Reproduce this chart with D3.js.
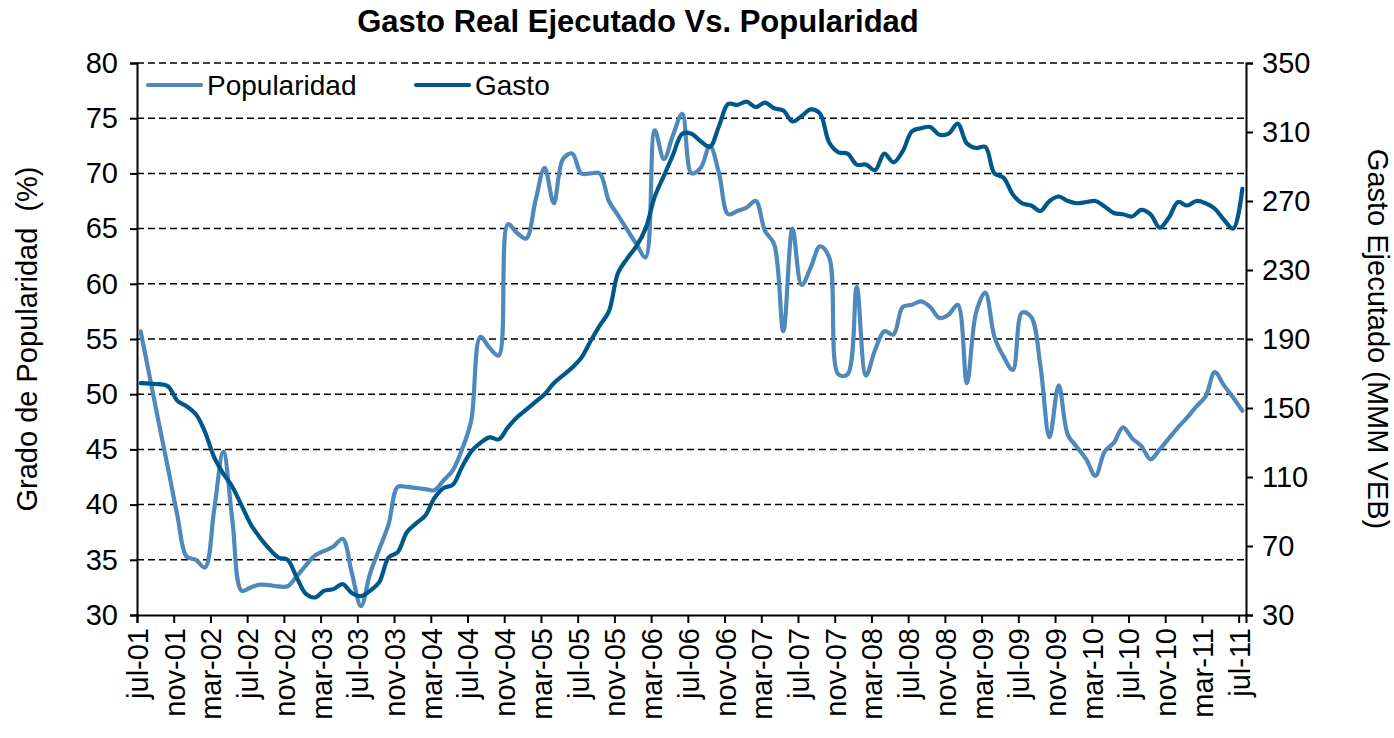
<!DOCTYPE html>
<html>
<head>
<meta charset="utf-8">
<script src="https://cdn.jsdelivr.net/npm/d3@7"></script>
<style>
  body { margin: 0; background: #fff; }
  svg text { font-family: "Liberation Sans", Arial, sans-serif; fill: #000; }
</style>
</head>
<body>
<svg id="chart" width="1394" height="738"></svg>
<script>
// tick labels every 4 months, jul-01 .. jul-11
const tickLabels = ["jul-01","nov-01","mar-02","jul-02","nov-02","mar-03","jul-03","nov-03",
  "mar-04","jul-04","nov-04","mar-05","jul-05","nov-05","mar-06","jul-06","nov-06",
  "mar-07","jul-07","nov-07","mar-08","jul-08","nov-08","mar-09","jul-09","nov-09",
  "mar-10","jul-10","nov-10","mar-11","jul-11"];

// monthly values, jul-01 .. jul-11 (121 months)
const popularidad = [
  55.7, 51.5, 47.3, 43.2, 39.0, 35.3, 35.0, 34.3, 39.5, 44.8,
  38.5, 32.2, 32.5, 32.75, 32.7, 32.6, 32.6, 33.5, 34.5, 35.4,
  35.8, 36.2, 36.9, 33.8, 30.8, 33.8, 36.0, 38.2, 41.6, 41.6,
  41.5, 41.4, 41.3, 42.2, 43.1, 45.0, 47.6, 55.2, 54.2, 53.5,
  65.4, 64.6, 64.1, 67.5, 70.5, 67.3, 71.3, 71.8, 70.0, 70.0,
  70.0, 67.5, 66.2, 64.9, 63.6, 62.4, 73.9, 71.3, 73.5, 75.4,
  70.0, 70.5, 72.5, 70.0, 66.3, 66.6, 66.9, 67.5, 64.8, 63.6,
  55.7, 65.0, 59.9, 61.5, 63.4, 62.4, 51.8, 51.8, 59.7, 51.7,
  54.0, 55.7, 55.4, 57.9, 58.1, 58.4, 57.9, 56.9, 57.2, 58.1,
  51.0, 57.4, 59.2, 55.2, 53.4, 52.2, 57.4, 57.0, 52.6, 46.1,
  50.8, 46.3, 45.2, 44.1, 42.6, 44.8, 45.6, 47.0, 46.0, 45.3,
  44.1, 45.0, 46.0, 47.0, 47.9, 48.9, 49.8, 52.0, 50.8, 49.7,
  48.5
];

const gasto = [
  164.4, 164.1, 163.8, 162.5, 154.2, 151.0, 146.5, 136.2, 121.5, 111.9,
  104.2, 93.4, 82.5, 74.8, 68.4, 63.3, 62.0, 51.8, 42.2, 40.2,
  44.1, 45.0, 47.9, 42.8, 40.9, 44.1, 49.2, 63.3, 66.5, 78.0,
  83.1, 87.6, 97.8, 103.6, 105.5, 115.8, 124.7, 129.8, 133.0, 131.8,
  138.8, 144.6, 149.0, 153.5, 158.0, 164.4, 168.9, 173.4, 179.1, 188.7,
  197.7, 206.0, 228.4, 236.7, 243.8, 254.0, 272.6, 284.7, 296.9, 309.0,
  309.0, 304.6, 301.4, 313.5, 326.3, 325.7, 327.6, 324.4, 327.0, 323.8,
  322.5, 316.1, 319.3, 323.1, 320.6, 303.9, 298.2, 297.5, 291.1, 291.1,
  287.9, 297.5, 292.4, 298.8, 310.3, 312.2, 312.9, 308.4, 309.0, 314.8,
  303.3, 300.7, 301.4, 286.0, 283.4, 273.8, 268.7, 267.4, 264.2, 270.0,
  272.6, 270.0, 268.7, 269.4, 270.0, 266.8, 263.0, 262.3, 261.0, 264.9,
  262.3, 254.6, 260.4, 269.4, 267.4, 270.0, 268.7, 265.5, 259.1, 254.0,
  277.0
];

const leftTicks = [30, 35, 40, 45, 50, 55, 60, 65, 70, 75, 80];
const rightTicks = [30, 70, 110, 150, 190, 230, 270, 310, 350];

const colPop = "#4f88bb";
const colGasto = "#00578a";

const svg = d3.select("#chart");
const plotL = 137, plotR = 1246, plotT = 63, plotB = 615;

const x = d3.scaleLinear().domain([0, 120.8]).range([plotL, plotR]);
const yL = d3.scaleLinear().domain([30, 80]).range([plotB, plotT]);
const yR = d3.scaleLinear().domain([30, 350]).range([plotB, plotT]);

// title
svg.append("text")
  .attr("x", 638).attr("y", 32)
  .attr("text-anchor", "middle")
  .style("font-size", "31px").style("font-weight", "bold")
  .text("Gasto Real Ejecutado Vs. Popularidad");

// gridlines
svg.append("g").selectAll("line")
  .data(leftTicks.filter(d => d > 30))
  .join("line")
  .attr("x1", plotL).attr("x2", plotR)
  .attr("y1", d => yL(d)).attr("y2", d => yL(d))
  .attr("stroke", "#000").attr("stroke-width", 1.5)
  .attr("stroke-dasharray", "7,4");

// left axis
const axL = svg.append("g").attr("transform", `translate(${plotL},0)`)
  .call(d3.axisLeft(yL).tickValues(leftTicks).tickSize(7).tickPadding(12));
// right axis
const axR = svg.append("g").attr("transform", `translate(${plotR},0)`)
  .call(d3.axisRight(yR).tickValues(rightTicks).tickSize(7).tickPadding(9));
// bottom axis
const axB = svg.append("g").attr("transform", `translate(0,${plotB})`)
  .call(d3.axisBottom(x).tickValues(d3.range(0, 121, 4)).tickSize(8)
    .tickFormat((d, i) => tickLabels[i]));

[axL, axR, axB].forEach(g => {
  g.select(".domain").attr("stroke", "#000").attr("stroke-width", 2);
  g.selectAll(".tick line").attr("stroke", "#000").attr("stroke-width", 2);
  g.selectAll("text").style("font-size", "29px").style("font-family", "'Liberation Sans', Arial, sans-serif").attr("fill", "#000");
});
axB.selectAll("text")
  .attr("transform", "rotate(-90)")
  .attr("text-anchor", "end")
  .attr("x", -13).attr("y", 0).attr("dy", "0.36em");

// axis titles
svg.append("text")
  .attr("transform", `translate(37,${(plotT + plotB) / 2}) rotate(-90)`)
  .attr("text-anchor", "middle")
  .style("font-size", "29px").style("white-space", "pre")
  .text("Grado de Popularidad  (%)");
svg.append("text")
  .attr("transform", `translate(1368,${(plotT + plotB) / 2}) rotate(90)`)
  .attr("text-anchor", "middle")
  .style("font-size", "29px")
  .text("Gasto Ejecutado (MMM VEB)");

// lines
const linePop = d3.line()
  .x((d, i) => x(i + 0.4)).y(d => yL(d))
  .curve(d3.curveCatmullRom);
const lineGasto = d3.line()
  .x((d, i) => x(i + 0.4)).y(d => yR(d))
  .curve(d3.curveCatmullRom);

svg.append("path").datum(popularidad)
  .attr("d", linePop)
  .attr("fill", "none").attr("stroke", colPop)
  .attr("stroke-width", 4.2).attr("stroke-linejoin", "round").attr("stroke-linecap", "round");
svg.append("path").datum(gasto)
  .attr("d", lineGasto)
  .attr("fill", "none").attr("stroke", colGasto)
  .attr("stroke-width", 4.2).attr("stroke-linejoin", "round").attr("stroke-linecap", "round");

// legend
const legend = [
  { name: "Popularidad", color: colPop, x: 148 },
  { name: "Gasto", color: colGasto, x: 416 }
];
const lg = svg.append("g").selectAll("g").data(legend).join("g")
  .attr("transform", d => `translate(${d.x},85)`);
lg.append("line").attr("x1", 0).attr("x2", 53)
  .attr("stroke", d => d.color).attr("stroke-width", 4.2).attr("stroke-linecap", "round");
lg.append("text").attr("x", 59).attr("y", 10)
  .style("font-size", "28px")
  .text(d => d.name);
</script>
</body>
</html>
